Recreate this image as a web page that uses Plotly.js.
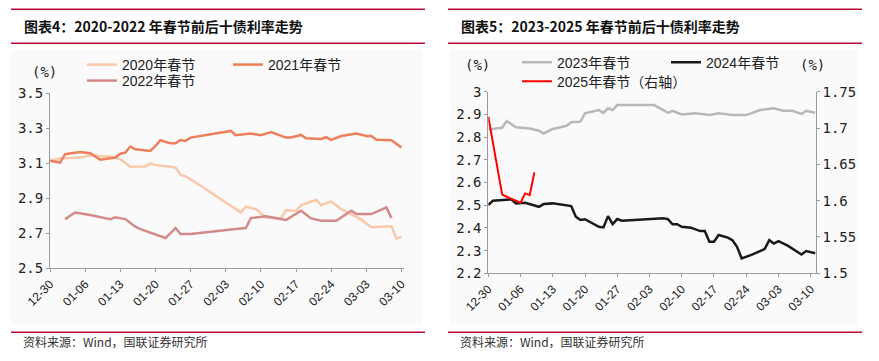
<!DOCTYPE html>
<html>
<head>
<meta charset="utf-8">
<script src="https://cdn.plot.ly/plotly-3.0.1.min.js"></script>
<style>
html,body{margin:0;padding:0;background:#fff;}
#chart{width:879px;height:361px;}
</style>
</head>
<body>
<div id="chart"></div>
<script>
// ---- data (MM-DD, 10Y yield %) ----
const dates2020 = ['12-30','01-01','01-02','01-05','01-07','01-09','01-11','01-13','01-15','01-18','01-19','01-20','01-22','01-24','01-25','01-26','01-28','02-06','02-07','02-09','02-11','02-14','02-15','02-17','02-18','02-21','02-22','02-24','02-26','02-28','03-02','03-04','03-08','03-09','03-10'];
const vals2020  = [3.114,3.129,3.129,3.133,3.146,3.142,3.138,3.123,3.080,3.082,3.099,3.091,3.082,3.076,3.034,3.025,2.990,2.820,2.852,2.838,2.790,2.785,2.832,2.829,2.861,2.890,2.861,2.882,2.838,2.810,2.778,2.734,2.740,2.671,2.680];

const dates2021 = ['12-30','01-01','01-02','01-03','01-05','01-07','01-09','01-12','01-13','01-14','01-15','01-16','01-19','01-20','01-21','01-23','01-24','01-25','01-26','01-27','02-04','02-05','02-08','02-10','02-12','02-15','02-16','02-18','02-19','02-22','02-23','02-24','02-26','03-01','03-03','03-04','03-05','03-08','03-10'];
const vals2021  = [3.114,3.104,3.152,3.157,3.165,3.157,3.120,3.133,3.155,3.161,3.196,3.180,3.171,3.200,3.232,3.214,3.214,3.233,3.228,3.247,3.285,3.260,3.270,3.260,3.279,3.247,3.247,3.262,3.243,3.239,3.249,3.234,3.256,3.270,3.256,3.256,3.234,3.232,3.190];

const dates2022 = ['01-02','01-04','01-07','01-09','01-11','01-12','01-14','01-16','01-17','01-22','01-23','01-24','01-25','01-27','02-05','02-07','02-08','02-11','02-15','02-18','02-20','02-22','02-25','02-27','02-28','03-01','03-04','03-07','03-08'];
const vals2022  = [2.781,2.819,2.804,2.791,2.781,2.791,2.781,2.738,2.724,2.673,2.702,2.730,2.696,2.696,2.724,2.730,2.787,2.797,2.776,2.829,2.785,2.772,2.772,2.810,2.829,2.810,2.810,2.848,2.787];

const dates2023 = ['12-30','12-31','01-02','01-03','01-05','01-08','01-10','01-11','01-13','01-16','01-17','01-19','01-20','01-23','01-24','01-25','01-26','01-27','02-04','02-06','02-07','02-08','02-10','02-13','02-15','02-16','02-18','02-21','02-24','02-27','03-02','03-04','03-06','03-08','03-09','03-11'];
const vals2023  = [2.834,2.836,2.841,2.871,2.843,2.838,2.828,2.816,2.836,2.850,2.865,2.868,2.905,2.919,2.907,2.927,2.919,2.941,2.941,2.919,2.907,2.916,2.900,2.905,2.900,2.897,2.905,2.897,2.897,2.919,2.927,2.916,2.916,2.902,2.916,2.907];

const dates2024 = ['12-30','12-31','01-04','01-05','01-07','01-10','01-11','01-13','01-17','01-18','01-19','01-20','01-23','01-24','01-25','01-26','01-27','01-28','02-06','02-07','02-08','02-09','02-10','02-12','02-14','02-15','02-16','02-17','02-18','02-20','02-21','02-22','02-23','02-25','02-28','03-01','03-02','03-03','03-05','03-08','03-09','03-11'];
const vals2024  = [2.501,2.520,2.526,2.508,2.511,2.493,2.505,2.508,2.496,2.449,2.435,2.438,2.405,2.402,2.452,2.417,2.439,2.432,2.442,2.439,2.416,2.416,2.405,2.401,2.386,2.386,2.339,2.339,2.369,2.357,2.346,2.317,2.266,2.280,2.307,2.346,2.331,2.342,2.322,2.283,2.298,2.288];

const dates2025 = ['12-30','01-02','01-03','01-06','01-07','01-08','01-09'];
const vals2025  = [1.7156,1.6086,1.6054,1.5971,1.6100,1.6077,1.6389];

const names = ['2020年春节','2021年春节','2022年春节','2023年春节','2024年春节','2025年春节（右轴）'];
const leftTitle = '图表4：2020-2022 年春节前后十债利率走势';
const rightTitle = '图表5：2023-2025 年春节前后十债利率走势';
const sourceText = '资料来源：Wind，国联证券研究所';

// map MM-DD onto a common (non-leap) season
function toDate(md){ return (md.startsWith('12') ? '2022-' : '2023-') + md; }
const D = a => a.map(toDate);

const W = 879, H = 361;
const px = v => v / W;
const py = v => 1 - v / H;

const lineFont = 'Arial, "Liberation Sans", "Noto Sans CJK SC", sans-serif';
const cjk = '"Noto Sans CJK SC", sans-serif';
const monoFont = '"DejaVu Sans Mono", monospace';

function tr(x, y, name, color, width, xa, ya, lg){
  return {x: D(x), y: y, name: name, type:'scatter', mode:'lines',
    line:{color:color, width:width}, xaxis:xa, yaxis:ya, legend:lg, hoverinfo:'skip'};
}

const data = [
  tr(dates2020, vals2020, names[0], '#F9C9AA', 2.5, 'x', 'y', 'legend'),
  tr(dates2021, vals2021, names[1], '#EE7F5C', 2.5, 'x', 'y', 'legend2'),
  tr(dates2022, vals2022, names[2], '#D28B8A', 2.5, 'x', 'y', 'legend3'),
  tr(dates2023, vals2023, names[3], '#B8B8B8', 2.5, 'x2', 'y2', 'legend4'),
  tr(dates2024, vals2024, names[4], '#1A1A1A', 2.5, 'x2', 'y2', 'legend5'),
  tr(dates2025, vals2025, names[5], '#FF0000', 2, 'x2', 'y3', 'legend6')
];

const axisCommon = {showline:true, linecolor:'#9A9A9A', linewidth:1, ticks:'outside', ticklen:3,
  tickcolor:'#9A9A9A', showgrid:false, zeroline:false, fixedrange:true};
const xCommon = Object.assign({}, axisCommon, {type:'date', tick0:'2022-12-30', dtick:7*86400000,
  tickformat:'%m-%d', tickangle:-45, tickfont:{family:lineFont, size:12, color:'#222'}});
const yFont = {family:monoFont, size:14, color:'#222'};

function legendAt(x, y){
  return {x:px(x), y:py(y), xanchor:'left', yanchor:'middle', bgcolor:'rgba(0,0,0,0)',
    borderwidth:0, font:{family:lineFont, size:14, color:'#222'}, orientation:'v'};
}

const layout = {
  width:W, height:H, margin:{l:0,r:0,t:0,b:0},
  paper_bgcolor:'#ffffff', plot_bgcolor:'rgba(0,0,0,0)',
  showlegend:true, hovermode:false,
  xaxis: Object.assign({}, xCommon, {domain:[px(50), px(404)], anchor:'y',
    range:['2022-12-30', '2023-03-10 12:00']}),
  yaxis: Object.assign({}, axisCommon, {domain:[py(268.3), py(93.3)], anchor:'x',
    range:[2.5, 3.5], dtick:0.2, tick0:2.5, tickfont:yFont}),
  xaxis2: Object.assign({}, xCommon, {domain:[px(488.3), px(815.7)], anchor:'y2',
    range:['2022-12-30', '2023-03-11 02:00']}),
  yaxis2: Object.assign({}, axisCommon, {domain:[py(273.3), py(91.7)], anchor:'x2',
    range:[2.2, 3.0], dtick:0.1, tick0:2.2, tickfont:yFont}),
  yaxis3: Object.assign({}, axisCommon, {overlaying:'y2', side:'right', anchor:'x2',
    range:[1.5, 1.75], dtick:0.05, tick0:1.5, tickfont:yFont}),
  legend: legendAt(82, 65),
  legend2: legendAt(228, 65),
  legend3: legendAt(82, 81),
  legend4: legendAt(517, 62.7),
  legend5: legendAt(666, 62.7),
  legend6: legendAt(517, 81.7),
  shapes: [
    {type:'rect', xref:'paper', yref:'paper', x0:px(11), x1:px(422), y0:py(325), y1:py(50), fillcolor:'#FAFAFA', line:{width:0}, layer:'below'},
    {type:'rect', xref:'paper', yref:'paper', x0:px(450), x1:px(858), y0:py(325), y1:py(50), fillcolor:'#FAFAFA', line:{width:0}, layer:'below'},
    {type:'line', xref:'paper', yref:'paper', x0:px(11), x1:px(425), y0:py(9.3), y1:py(9.3), line:{color:'#BE0A36', width:1.5}},
    {type:'line', xref:'paper', yref:'paper', x0:px(11), x1:px(425), y0:py(43.3), y1:py(43.3), line:{color:'#BE0A36', width:1.5}},
    {type:'line', xref:'paper', yref:'paper', x0:px(11), x1:px(425), y0:py(332.3), y1:py(332.3), line:{color:'#BE0A36', width:1.5}},
    {type:'line', xref:'paper', yref:'paper', x0:px(448), x1:px(862), y0:py(9.3), y1:py(9.3), line:{color:'#BE0A36', width:1.5}},
    {type:'line', xref:'paper', yref:'paper', x0:px(448), x1:px(862), y0:py(43.3), y1:py(43.3), line:{color:'#BE0A36', width:1.5}},
    {type:'line', xref:'paper', yref:'paper', x0:px(448), x1:px(862), y0:py(332.3), y1:py(332.3), line:{color:'#BE0A36', width:1.5}}
  ],
  annotations: [
    {text:'<b>'+leftTitle+'</b>', xref:'paper', yref:'paper', x:px(22), y:py(26), xanchor:'left', yanchor:'middle', showarrow:false, font:{family:cjk, size:14, color:'#111'}},
    {text:'<b>'+rightTitle+'</b>', xref:'paper', yref:'paper', x:px(459), y:py(26), xanchor:'left', yanchor:'middle', showarrow:false, font:{family:cjk, size:14, color:'#111'}},
    {text:sourceText, xref:'paper', yref:'paper', x:px(21), y:py(341.7), xanchor:'left', yanchor:'middle', showarrow:false, font:{family:cjk, size:12, color:'#333'}},
    {text:sourceText, xref:'paper', yref:'paper', x:px(458), y:py(341.7), xanchor:'left', yanchor:'middle', showarrow:false, font:{family:cjk, size:12, color:'#333'}},
    {text:'(%)', xref:'paper', yref:'paper', x:px(44), y:py(71.7), xanchor:'center', yanchor:'middle', showarrow:false, font:{family:monoFont, size:14, color:'#222'}},
    {text:'(%)', xref:'paper', yref:'paper', x:px(477.5), y:py(65), xanchor:'center', yanchor:'middle', showarrow:false, font:{family:monoFont, size:14, color:'#222'}},
    {text:'(%)', xref:'paper', yref:'paper', x:px(812.5), y:py(65), xanchor:'center', yanchor:'middle', showarrow:false, font:{family:monoFont, size:14, color:'#222'}}
  ]
};

Plotly.newPlot('chart', data, layout, {staticPlot:true, displayModeBar:false});
</script>
</body>
</html>
